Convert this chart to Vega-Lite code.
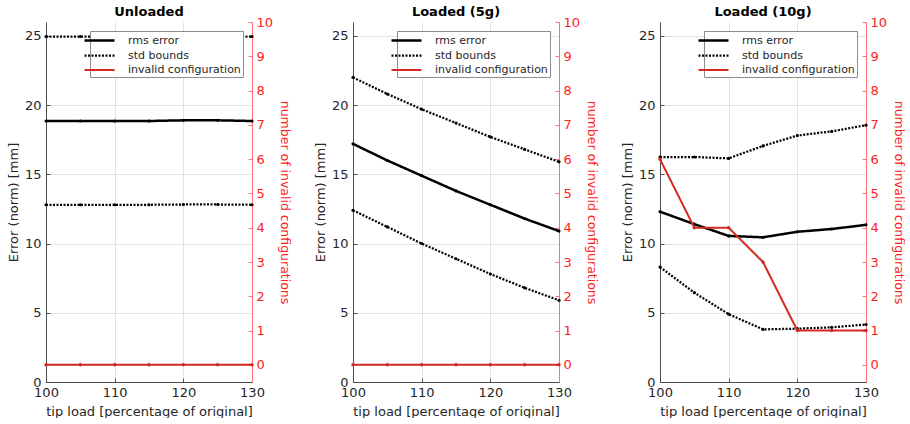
{
  "$schema": "https://vega.github.io/schema/vega-lite/v6.json",
  "padding": {"left": 7, "top": 6, "right": 0, "bottom": 0},
  "config": {
    "font": "DejaVu Sans",
    "view": {"stroke": null},
    "axis": {"labelColor": "#262626", "titleColor": "#262626", "domainColor": "#4d4d4d", "tickColor": "#4d4d4d", "labelFontSize": 13, "titleFontSize": 13, "titleFontWeight": "normal", "gridColor": "#e3e3e3", "tickSize": -4, "labelPadding": 9, "labelFlush": false},
    "axisX": {"titlePadding": 6, "labelPadding": 8},
    "title": {"fontSize": 13, "fontWeight": "bold", "color": "#000000", "offset": -3},
    "legend": {"orient": "top-right", "offset": 9, "title": null, "symbolType": "M-2.5,0H2.5", "symbolSize": 144, "labelFontSize": 11, "labelColor": "#262626", "rowPadding": 2, "padding": 2, "strokeColor": "#8c8c8c", "fillColor": "#ffffff", "labelOffset": 21}
  },
  "datasets": {
    "err": [
      {"panel": "Unloaded", "line": "rms", "series": "rms error", "x": 100, "v": 18.85},
      {"panel": "Unloaded", "line": "rms", "series": "rms error", "x": 105, "v": 18.85},
      {"panel": "Unloaded", "line": "rms", "series": "rms error", "x": 110, "v": 18.85},
      {"panel": "Unloaded", "line": "rms", "series": "rms error", "x": 115, "v": 18.85},
      {"panel": "Unloaded", "line": "rms", "series": "rms error", "x": 120, "v": 18.9},
      {"panel": "Unloaded", "line": "rms", "series": "rms error", "x": 125, "v": 18.9},
      {"panel": "Unloaded", "line": "rms", "series": "rms error", "x": 130, "v": 18.85},
      {"panel": "Unloaded", "line": "up", "series": "std bounds", "x": 100, "v": 24.95},
      {"panel": "Unloaded", "line": "up", "series": "std bounds", "x": 105, "v": 24.95},
      {"panel": "Unloaded", "line": "up", "series": "std bounds", "x": 110, "v": 24.95},
      {"panel": "Unloaded", "line": "up", "series": "std bounds", "x": 115, "v": 24.95},
      {"panel": "Unloaded", "line": "up", "series": "std bounds", "x": 120, "v": 24.95},
      {"panel": "Unloaded", "line": "up", "series": "std bounds", "x": 125, "v": 24.95},
      {"panel": "Unloaded", "line": "up", "series": "std bounds", "x": 130, "v": 24.95},
      {"panel": "Unloaded", "line": "lo", "series": "std bounds", "x": 100, "v": 12.8},
      {"panel": "Unloaded", "line": "lo", "series": "std bounds", "x": 105, "v": 12.8},
      {"panel": "Unloaded", "line": "lo", "series": "std bounds", "x": 110, "v": 12.8},
      {"panel": "Unloaded", "line": "lo", "series": "std bounds", "x": 115, "v": 12.8},
      {"panel": "Unloaded", "line": "lo", "series": "std bounds", "x": 120, "v": 12.82},
      {"panel": "Unloaded", "line": "lo", "series": "std bounds", "x": 125, "v": 12.82},
      {"panel": "Unloaded", "line": "lo", "series": "std bounds", "x": 130, "v": 12.8},

      {"panel": "Loaded (5g)", "line": "rms", "series": "rms error", "x": 100, "v": 17.2},
      {"panel": "Loaded (5g)", "line": "rms", "series": "rms error", "x": 105, "v": 16.0},
      {"panel": "Loaded (5g)", "line": "rms", "series": "rms error", "x": 110, "v": 14.9},
      {"panel": "Loaded (5g)", "line": "rms", "series": "rms error", "x": 115, "v": 13.8},
      {"panel": "Loaded (5g)", "line": "rms", "series": "rms error", "x": 120, "v": 12.8},
      {"panel": "Loaded (5g)", "line": "rms", "series": "rms error", "x": 125, "v": 11.8},
      {"panel": "Loaded (5g)", "line": "rms", "series": "rms error", "x": 130, "v": 10.9},
      {"panel": "Loaded (5g)", "line": "up", "series": "std bounds", "x": 100, "v": 22.0},
      {"panel": "Loaded (5g)", "line": "up", "series": "std bounds", "x": 105, "v": 20.8},
      {"panel": "Loaded (5g)", "line": "up", "series": "std bounds", "x": 110, "v": 19.7},
      {"panel": "Loaded (5g)", "line": "up", "series": "std bounds", "x": 115, "v": 18.7},
      {"panel": "Loaded (5g)", "line": "up", "series": "std bounds", "x": 120, "v": 17.7},
      {"panel": "Loaded (5g)", "line": "up", "series": "std bounds", "x": 125, "v": 16.8},
      {"panel": "Loaded (5g)", "line": "up", "series": "std bounds", "x": 130, "v": 15.9},
      {"panel": "Loaded (5g)", "line": "lo", "series": "std bounds", "x": 100, "v": 12.4},
      {"panel": "Loaded (5g)", "line": "lo", "series": "std bounds", "x": 105, "v": 11.2},
      {"panel": "Loaded (5g)", "line": "lo", "series": "std bounds", "x": 110, "v": 10.0},
      {"panel": "Loaded (5g)", "line": "lo", "series": "std bounds", "x": 115, "v": 8.9},
      {"panel": "Loaded (5g)", "line": "lo", "series": "std bounds", "x": 120, "v": 7.8},
      {"panel": "Loaded (5g)", "line": "lo", "series": "std bounds", "x": 125, "v": 6.8},
      {"panel": "Loaded (5g)", "line": "lo", "series": "std bounds", "x": 130, "v": 5.9},

      {"panel": "Loaded (10g)", "line": "rms", "series": "rms error", "x": 100, "v": 12.3},
      {"panel": "Loaded (10g)", "line": "rms", "series": "rms error", "x": 105, "v": 11.4},
      {"panel": "Loaded (10g)", "line": "rms", "series": "rms error", "x": 110, "v": 10.55},
      {"panel": "Loaded (10g)", "line": "rms", "series": "rms error", "x": 115, "v": 10.45},
      {"panel": "Loaded (10g)", "line": "rms", "series": "rms error", "x": 120, "v": 10.85},
      {"panel": "Loaded (10g)", "line": "rms", "series": "rms error", "x": 125, "v": 11.05},
      {"panel": "Loaded (10g)", "line": "rms", "series": "rms error", "x": 130, "v": 11.35},
      {"panel": "Loaded (10g)", "line": "up", "series": "std bounds", "x": 100, "v": 16.25},
      {"panel": "Loaded (10g)", "line": "up", "series": "std bounds", "x": 105, "v": 16.25},
      {"panel": "Loaded (10g)", "line": "up", "series": "std bounds", "x": 110, "v": 16.15},
      {"panel": "Loaded (10g)", "line": "up", "series": "std bounds", "x": 115, "v": 17.05},
      {"panel": "Loaded (10g)", "line": "up", "series": "std bounds", "x": 120, "v": 17.8},
      {"panel": "Loaded (10g)", "line": "up", "series": "std bounds", "x": 125, "v": 18.1},
      {"panel": "Loaded (10g)", "line": "up", "series": "std bounds", "x": 130, "v": 18.55},
      {"panel": "Loaded (10g)", "line": "lo", "series": "std bounds", "x": 100, "v": 8.3},
      {"panel": "Loaded (10g)", "line": "lo", "series": "std bounds", "x": 105, "v": 6.45},
      {"panel": "Loaded (10g)", "line": "lo", "series": "std bounds", "x": 110, "v": 4.9},
      {"panel": "Loaded (10g)", "line": "lo", "series": "std bounds", "x": 115, "v": 3.8},
      {"panel": "Loaded (10g)", "line": "lo", "series": "std bounds", "x": 120, "v": 3.85},
      {"panel": "Loaded (10g)", "line": "lo", "series": "std bounds", "x": 125, "v": 3.95},
      {"panel": "Loaded (10g)", "line": "lo", "series": "std bounds", "x": 130, "v": 4.15}
    ],
    "inv": [
      {"panel": "Unloaded", "series": "invalid configuration", "x": 100, "n": 0},
      {"panel": "Unloaded", "series": "invalid configuration", "x": 105, "n": 0},
      {"panel": "Unloaded", "series": "invalid configuration", "x": 110, "n": 0},
      {"panel": "Unloaded", "series": "invalid configuration", "x": 115, "n": 0},
      {"panel": "Unloaded", "series": "invalid configuration", "x": 120, "n": 0},
      {"panel": "Unloaded", "series": "invalid configuration", "x": 125, "n": 0},
      {"panel": "Unloaded", "series": "invalid configuration", "x": 130, "n": 0},
      {"panel": "Loaded (5g)", "series": "invalid configuration", "x": 100, "n": 0},
      {"panel": "Loaded (5g)", "series": "invalid configuration", "x": 105, "n": 0},
      {"panel": "Loaded (5g)", "series": "invalid configuration", "x": 110, "n": 0},
      {"panel": "Loaded (5g)", "series": "invalid configuration", "x": 115, "n": 0},
      {"panel": "Loaded (5g)", "series": "invalid configuration", "x": 120, "n": 0},
      {"panel": "Loaded (5g)", "series": "invalid configuration", "x": 125, "n": 0},
      {"panel": "Loaded (5g)", "series": "invalid configuration", "x": 130, "n": 0},
      {"panel": "Loaded (10g)", "series": "invalid configuration", "x": 100, "n": 6},
      {"panel": "Loaded (10g)", "series": "invalid configuration", "x": 105, "n": 4},
      {"panel": "Loaded (10g)", "series": "invalid configuration", "x": 110, "n": 4},
      {"panel": "Loaded (10g)", "series": "invalid configuration", "x": 115, "n": 3},
      {"panel": "Loaded (10g)", "series": "invalid configuration", "x": 120, "n": 1},
      {"panel": "Loaded (10g)", "series": "invalid configuration", "x": 125, "n": 1},
      {"panel": "Loaded (10g)", "series": "invalid configuration", "x": 130, "n": 1}
    ]
  },
  "spacing": 23,
  "resolve": {
    "scale": {"color": "independent", "strokeDash": "independent", "strokeWidth": "independent"},
    "legend": {"color": "independent", "strokeDash": "independent", "strokeWidth": "independent"}
  },
  "hconcat": [
    {
      "title": "Unloaded", "width": 206, "height": 360,
      "resolve": {"scale": {"y": "independent"}},
      "layer": [
        {
          "data": {"name": "err"},
          "transform": [{"filter": "datum.panel === 'Unloaded'"}],
          "mark": {"type": "line", "point": {"filled": true, "size": 10}},
          "encoding": {
            "x": {"field": "x", "type": "quantitative", "scale": {"domain": [100, 130], "nice": false, "zero": false}, "axis": {"title": "tip load [percentage of original]", "values": [100, 110, 120, 130], "grid": true}},
            "y": {"field": "v", "type": "quantitative", "scale": {"domain": [0, 26], "nice": false}, "axis": {"title": "Error (norm) [mm]", "values": [0, 5, 10, 15, 20, 25], "grid": true}},
            "detail": {"field": "line"},
            "color": {"field": "series", "type": "nominal", "scale": {"domain": ["rms error", "std bounds", "invalid configuration"], "range": ["#000000", "#000000", "#d42a22"]}},
            "strokeDash": {"field": "series", "type": "nominal", "scale": {"domain": ["rms error", "std bounds", "invalid configuration"], "range": [[1, 0], [2, 1.5], [1, 0]]}},
            "strokeWidth": {"field": "series", "type": "nominal", "scale": {"domain": ["rms error", "std bounds", "invalid configuration"], "range": [2.5, 2, 1.1]}}
          }
        },
        {
          "data": {"name": "inv"},
          "transform": [{"filter": "datum.panel === 'Unloaded'"}],
          "mark": {"type": "line", "point": {"filled": true, "size": 12}},
          "encoding": {
            "x": {"field": "x", "type": "quantitative", "scale": {"domain": [100, 130], "nice": false, "zero": false}},
            "y": {"field": "n", "type": "quantitative", "scale": {"domain": [-0.5, 10], "nice": false}, "axis": {"orient": "right", "title": "number of invalid configurations", "values": [0, 1, 2, 3, 4, 5, 6, 7, 8, 9, 10], "grid": false, "labelColor": "#ff2020", "titleColor": "#ff2020", "domainColor": "#ff7070", "tickColor": "#ff7070", "labelPadding": 8, "titlePadding": 5, "titleFontSize": 12.5}},
            "color": {"field": "series", "type": "nominal", "scale": {"domain": ["rms error", "std bounds", "invalid configuration"], "range": ["#000000", "#000000", "#d42a22"]}},
            "strokeDash": {"field": "series", "type": "nominal", "scale": {"domain": ["rms error", "std bounds", "invalid configuration"], "range": [[1, 0], [2, 1.5], [1, 0]]}},
            "strokeWidth": {"field": "series", "type": "nominal", "scale": {"domain": ["rms error", "std bounds", "invalid configuration"], "range": [2.5, 2, 1.1]}}
          }
        }
      ]
    },
    {
      "title": "Loaded (5g)", "width": 206, "height": 360,
      "resolve": {"scale": {"y": "independent"}},
      "layer": [
        {
          "data": {"name": "err"},
          "transform": [{"filter": "datum.panel === 'Loaded (5g)'"}],
          "mark": {"type": "line", "point": {"filled": true, "size": 10}},
          "encoding": {
            "x": {"field": "x", "type": "quantitative", "scale": {"domain": [100, 130], "nice": false, "zero": false}, "axis": {"title": "tip load [percentage of original]", "values": [100, 110, 120, 130], "grid": true}},
            "y": {"field": "v", "type": "quantitative", "scale": {"domain": [0, 26], "nice": false}, "axis": {"title": "Error (norm) [mm]", "values": [0, 5, 10, 15, 20, 25], "grid": true}},
            "detail": {"field": "line"},
            "color": {"field": "series", "type": "nominal", "scale": {"domain": ["rms error", "std bounds", "invalid configuration"], "range": ["#000000", "#000000", "#d42a22"]}},
            "strokeDash": {"field": "series", "type": "nominal", "scale": {"domain": ["rms error", "std bounds", "invalid configuration"], "range": [[1, 0], [2, 1.5], [1, 0]]}},
            "strokeWidth": {"field": "series", "type": "nominal", "scale": {"domain": ["rms error", "std bounds", "invalid configuration"], "range": [2.5, 2, 1.1]}}
          }
        },
        {
          "data": {"name": "inv"},
          "transform": [{"filter": "datum.panel === 'Loaded (5g)'"}],
          "mark": {"type": "line", "point": {"filled": true, "size": 12}},
          "encoding": {
            "x": {"field": "x", "type": "quantitative", "scale": {"domain": [100, 130], "nice": false, "zero": false}},
            "y": {"field": "n", "type": "quantitative", "scale": {"domain": [-0.5, 10], "nice": false}, "axis": {"orient": "right", "title": "number of invalid configurations", "values": [0, 1, 2, 3, 4, 5, 6, 7, 8, 9, 10], "grid": false, "labelColor": "#ff2020", "titleColor": "#ff2020", "domainColor": "#ff7070", "tickColor": "#ff7070", "labelPadding": 8, "titlePadding": 5, "titleFontSize": 12.5}},
            "color": {"field": "series", "type": "nominal", "scale": {"domain": ["rms error", "std bounds", "invalid configuration"], "range": ["#000000", "#000000", "#d42a22"]}},
            "strokeDash": {"field": "series", "type": "nominal", "scale": {"domain": ["rms error", "std bounds", "invalid configuration"], "range": [[1, 0], [2, 1.5], [1, 0]]}},
            "strokeWidth": {"field": "series", "type": "nominal", "scale": {"domain": ["rms error", "std bounds", "invalid configuration"], "range": [2.5, 2, 1.1]}}
          }
        }
      ]
    },
    {
      "title": "Loaded (10g)", "width": 206, "height": 360,
      "resolve": {"scale": {"y": "independent"}},
      "layer": [
        {
          "data": {"name": "err"},
          "transform": [{"filter": "datum.panel === 'Loaded (10g)'"}],
          "mark": {"type": "line", "point": {"filled": true, "size": 10}},
          "encoding": {
            "x": {"field": "x", "type": "quantitative", "scale": {"domain": [100, 130], "nice": false, "zero": false}, "axis": {"title": "tip load [percentage of original]", "values": [100, 110, 120, 130], "grid": true}},
            "y": {"field": "v", "type": "quantitative", "scale": {"domain": [0, 26], "nice": false}, "axis": {"title": "Error (norm) [mm]", "values": [0, 5, 10, 15, 20, 25], "grid": true}},
            "detail": {"field": "line"},
            "color": {"field": "series", "type": "nominal", "scale": {"domain": ["rms error", "std bounds", "invalid configuration"], "range": ["#000000", "#000000", "#d42a22"]}},
            "strokeDash": {"field": "series", "type": "nominal", "scale": {"domain": ["rms error", "std bounds", "invalid configuration"], "range": [[1, 0], [2, 1.5], [1, 0]]}},
            "strokeWidth": {"field": "series", "type": "nominal", "scale": {"domain": ["rms error", "std bounds", "invalid configuration"], "range": [2.5, 2, 1.1]}}
          }
        },
        {
          "data": {"name": "inv"},
          "transform": [{"filter": "datum.panel === 'Loaded (10g)'"}],
          "mark": {"type": "line", "point": {"filled": true, "size": 12}},
          "encoding": {
            "x": {"field": "x", "type": "quantitative", "scale": {"domain": [100, 130], "nice": false, "zero": false}},
            "y": {"field": "n", "type": "quantitative", "scale": {"domain": [-0.5, 10], "nice": false}, "axis": {"orient": "right", "title": "number of invalid configurations", "values": [0, 1, 2, 3, 4, 5, 6, 7, 8, 9, 10], "grid": false, "labelColor": "#ff2020", "titleColor": "#ff2020", "domainColor": "#ff7070", "tickColor": "#ff7070", "labelPadding": 8, "titlePadding": 5, "titleFontSize": 12.5}},
            "color": {"field": "series", "type": "nominal", "scale": {"domain": ["rms error", "std bounds", "invalid configuration"], "range": ["#000000", "#000000", "#d42a22"]}},
            "strokeDash": {"field": "series", "type": "nominal", "scale": {"domain": ["rms error", "std bounds", "invalid configuration"], "range": [[1, 0], [2, 1.5], [1, 0]]}},
            "strokeWidth": {"field": "series", "type": "nominal", "scale": {"domain": ["rms error", "std bounds", "invalid configuration"], "range": [2.5, 2, 1.1]}}
          }
        }
      ]
    }
  ]
}
